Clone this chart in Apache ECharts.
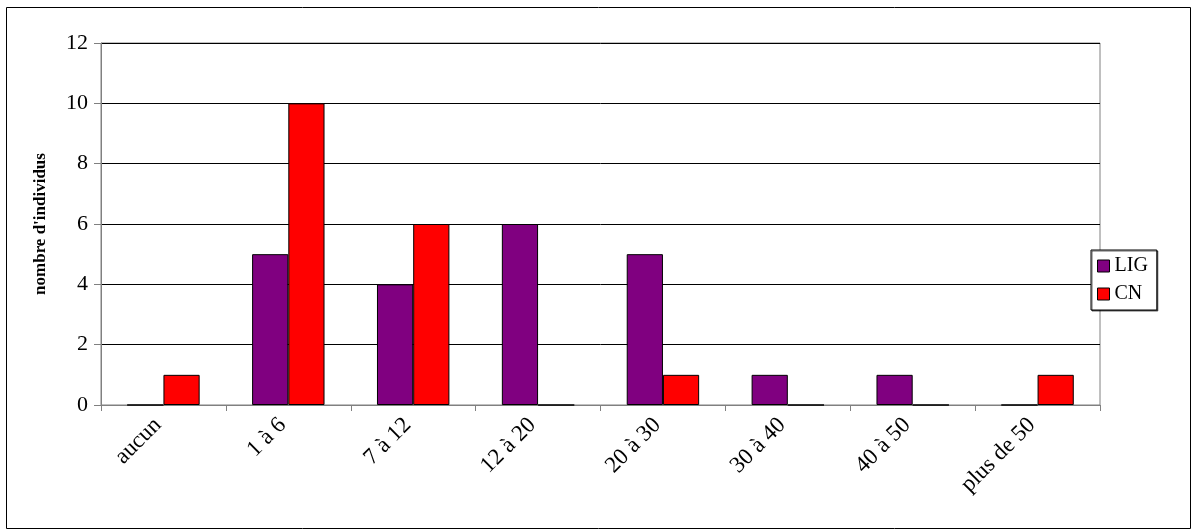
<!DOCTYPE html>
<html>
<head>
<meta charset="utf-8">
<script src="https://cdn.jsdelivr.net/npm/echarts@6/dist/echarts.min.js"></script>
<style>
html,body{margin:0;padding:0;background:#fff;}
#chart{width:1192px;height:532px;}
</style>
</head>
<body>
<div id="chart"></div>
<script>
const categories = ['aucun', '1 à 6', '7 à 12', '12 à 20', '20 à 30', '30 à 40', '40 à 50', 'plus de 50'];
const ligValues = [0, 5, 4, 6, 5, 1, 1, 0];
const cnValues = [1, 10, 6, 0, 1, 0, 0, 1];
const seriesNames = ['LIG', 'CN'];
const yAxisTitle = "nombre d'individus";

const FONT = '"Liberation Serif", "Times New Roman", serif';
const chart = echarts.init(document.getElementById('chart'), null, {renderer: 'canvas'});
chart.setOption({
  animation: false,
  backgroundColor: '#fff',
  textStyle: {fontFamily: FONT, color: '#000'},
  graphic: [{
    type: 'rect', left: 4, top: 5, shape: {width: 1184, height: 521},
    style: {fill: 'none', stroke: '#000', lineWidth: 1}, silent: true, z: 0
  }],
  grid: {
    left: 101, right: 92, top: 43, bottom: 127,
    show: true, borderColor: '#808080', borderWidth: 1, backgroundColor: 'transparent'
  },
  legend: {
    orient: 'vertical', left: 1091, top: 250,
    data: seriesNames,
    icon: 'rect', itemWidth: 12, itemHeight: 12, itemGap: 8,
    padding: [6, 9, 6, 6],
    borderColor: '#000', borderWidth: 1, backgroundColor: '#fff',
    shadowColor: 'rgba(0,0,0,0.6)', shadowOffsetX: 1, shadowOffsetY: 1, shadowBlur: 0,
    textStyle: {fontFamily: FONT, fontSize: 20, color: '#000', padding: [0, 0, 0, 0]},
    itemStyle: {borderColor: '#000', borderWidth: 1}
  },
  xAxis: {
    type: 'category', data: categories,
    axisLine: {lineStyle: {color: '#808080', width: 1}},
    axisTick: {show: true, alignWithLabel: false, length: 6, lineStyle: {color: '#808080'}},
    axisLabel: {rotate: 45, fontSize: 23, fontFamily: FONT, color: '#000', margin: 11,
                padding: [0, 8, 0, 0], interval: 0}
  },
  yAxis: {
    type: 'value', min: 0, max: 12, interval: 2,
    name: yAxisTitle, nameLocation: 'middle', nameGap: 52,
    nameTextStyle: {fontFamily: FONT, fontSize: 17, fontWeight: 'bold', color: '#000'},
    axisLine: {show: true, lineStyle: {color: '#808080', width: 1}},
    axisTick: {show: true, length: 7, lineStyle: {color: '#808080'}},
    axisLabel: {fontSize: 22, fontFamily: FONT, color: '#000', margin: 13},
    splitLine: {show: true, lineStyle: {color: '#000', width: 1}}
  },
  series: [
    {name: seriesNames[0], type: 'bar', data: ligValues, barGap: '0%', barCategoryGap: '42%',
     itemStyle: {color: '#800080', borderColor: '#000', borderWidth: 1}},
    {name: seriesNames[1], type: 'bar', data: cnValues, barGap: '0%', barCategoryGap: '42%',
     itemStyle: {color: '#FF0000', borderColor: '#000', borderWidth: 1}}
  ]
});
</script>
</body>
</html>
